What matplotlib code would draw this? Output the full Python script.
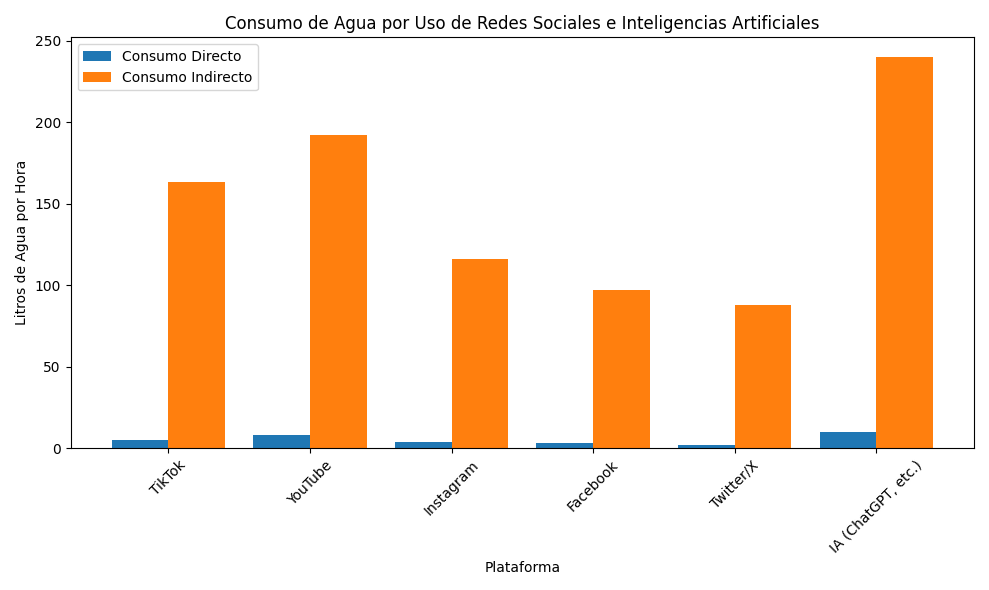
import matplotlib
matplotlib.use("Agg")
import matplotlib.pyplot as plt
import numpy as np

plataformas = ["TikTok", "YouTube", "Instagram", "Facebook", "Twitter/X", "IA (ChatGPT, etc.)"]
consumo_directo = [5, 8, 4, 3, 2, 10]
consumo_indirecto = [163, 192, 116, 97, 88, 240]

x = np.arange(len(plataformas))
w = 0.4
fig, ax = plt.subplots(figsize=(9.89, 5.9), dpi=100)
ax.bar(x - w/2, consumo_directo, w, label="Consumo Directo", color="#1f77b4")
ax.bar(x + w/2, consumo_indirecto, w, label="Consumo Indirecto", color="#ff7f0e")
ax.set_xticks(x)
ax.set_xticklabels(plataformas, rotation=45)
ax.set_xlabel("Plataforma")
ax.set_ylabel("Litros de Agua por Hora")
ax.set_title("Consumo de Agua por Uso de Redes Sociales e Inteligencias Artificiales")
ax.legend(loc="upper left")
fig.tight_layout()
fig.savefig("out.png")
